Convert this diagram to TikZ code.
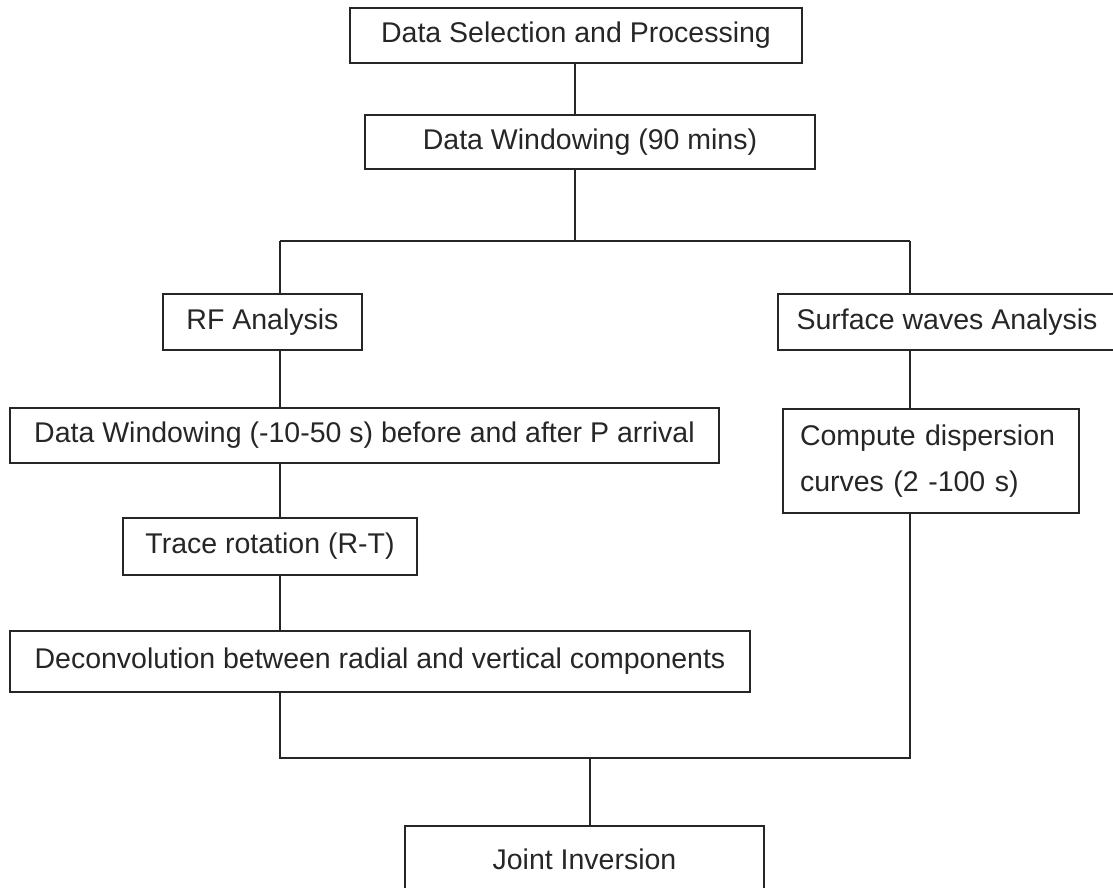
\documentclass[tikz,border=0pt]{standalone}
\usepackage{fontspec}
\setmainfont{Liberation Sans}
\usepackage{tikz}
\usetikzlibrary{positioning,calc}

\begin{document}
\begin{tikzpicture}[x=1pt,y=-1pt,
  box/.style={draw=black!85,line width=1.6pt,inner sep=0pt,align=center,
    font=\fontsize{28.5}{46}\selectfont,text=black!85},
  link/.style={draw=black!85,line width=1.6pt}]
  \useasboundingbox (0,0) rectangle (1113,888); % 画像の範囲
  \node[box,minimum width=452,minimum height=55] (sel) at (576,35.5) {Data Selection and Processing}; % 最初の箱
  \node[box,minimum width=450,minimum height=54] (win) at (590,142) {Data Windowing (90 mins)}; % 2つ目の箱
  \node[box,minimum width=199,minimum height=56] (rf) at (262.5,322) {RF Analysis}; % 左の枝の先頭
  \node[box,minimum width=338,minimum height=56] (sw) at (947,322) {Surface waves Analysis}; % 右の枝の先頭
  \node[box,minimum width=709,minimum height=55] (dw) at (364.5,435.5) {Data Windowing (-10-50 s) before and after P arrival}; % 窓の切り出し
  \node[box,minimum width=294,minimum height=57] (tr) at (270,546.5) {Trace rotation (R-T)}; % 回転
  \node[box,minimum width=740,minimum height=61] (dec) at (380,661.5) {Deconvolution between radial and vertical components}; % デコンボリューション
  \node[box,minimum width=296,minimum height=104,align=left,text width=262,inner xsep=17pt] (cd) at (931,461) {Compute dispersion\\curves (2 -100 s)}; % 分散曲線
  \node[box,minimum width=359,minimum height=66] (ji) at (584.5,859) {Joint Inversion}; % 最後の箱
  \coordinate (fork) at (575,241); % 分かれ目
  \coordinate (rfx) at (280,241); % 左の枝
  \coordinate (swx) at (910,241); % 右の枝
  \coordinate (lm) at (280,758); % 合流線の左端
  \coordinate (rm) at (910,758); % 合流線の右端
  \coordinate (merge) at (590,758); % 合流点
  \draw[link] (sel.south -| fork) -- (win.north -| fork); % 上の2つの箱をつなぐ線
  \draw[link] (win.south -| fork) -- (fork); % 分かれ目までの線
  \draw[link] (rfx) -- (swx); % 横の線
  \draw[link] (rfx) -- (rf.north -| rfx); % 左へ下りる線
  \draw[link] (swx) -- (sw.north -| swx); % 右へ下りる線
  \draw[link] (rf.south -| rfx) -- (dw.north -| rfx); % 左の列の線その1
  \draw[link] (dw.south -| rfx) -- (tr.north -| rfx); % 左の列の線その2
  \draw[link] (tr.south -| rfx) -- (dec.north -| rfx); % 左の列の線その3
  \draw[link] (sw.south -| swx) -- (cd.north -| swx); % 右の列の線
  \draw[link] (dec.south -| lm) -- (lm) -- (rm) -- (cd.south -| rm); % 合流の線
  \draw[link] (merge) -- (ji.north -| merge); % 最後の箱への線
\end{tikzpicture}
\end{document}
